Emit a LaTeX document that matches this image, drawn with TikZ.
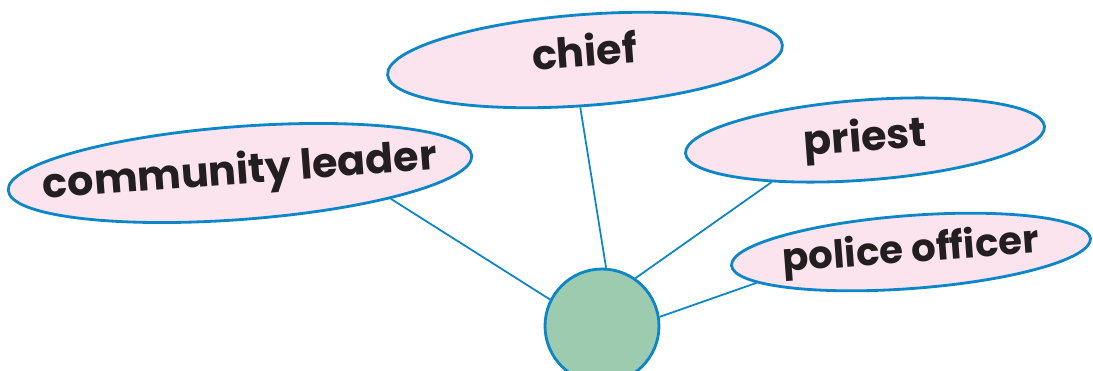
\documentclass[tikz,border=0pt]{standalone}
\usepackage{fontspec}
\setsansfont{Poppins}
\usepackage{xcolor}
\usetikzlibrary{shapes.geometric}

\definecolor{rimblue}{HTML}{0A86C9}
\definecolor{bubblepink}{HTML}{FBE4EE}
\definecolor{hubgreen}{HTML}{9DCBB0}
\definecolor{inkdark}{HTML}{231F20}

\begin{document}
\begin{tikzpicture}[
  x=0.02cm, y=-0.02cm,
  role/.style  = {ellipse, draw=rimblue, line width=1.6pt, fill=bubblepink,
                  inner xsep=-0.9cm, inner ysep=0pt, rotate=4.3, text=inkdark,
                  font=\sffamily\bfseries\fontsize{23.5}{26}\selectfont},
  hub/.style   = {circle, draw=rimblue, line width=1.6pt, fill=hubgreen,
                  minimum size=2.28cm, inner sep=0pt},
  link/.style  = {draw=rimblue, line width=1pt}
]
  \useasboundingbox (0,0) rectangle (1093,371);

  \node[hub] (h) at (602,326) {};
  \node[role, minimum width=9.3cm,  minimum height=1.86cm] (cl) at (240,173) {community leader};
  \node[role, minimum width=7.92cm, minimum height=1.82cm] (ch) at (585,60)  {\raisebox{0.4cm}{chief}};
  \node[role, minimum width=7.2cm,  minimum height=1.6cm]  (pr) at (865,140) {priest};
  \node[role, minimum width=7.2cm,  minimum height=1.46cm,
        font=\sffamily\bfseries\fontsize{22}{25}\selectfont] (po) at (911,252) {police officer};

  \draw[link] (h.153) -- (cl.-14);
  \draw[link] (h.86)  -- (ch.-100);
  \draw[link] (h.55)  -- (pr.200);
  \draw[link] (h.9)   -- (po.187);
\end{tikzpicture}
\end{document}
